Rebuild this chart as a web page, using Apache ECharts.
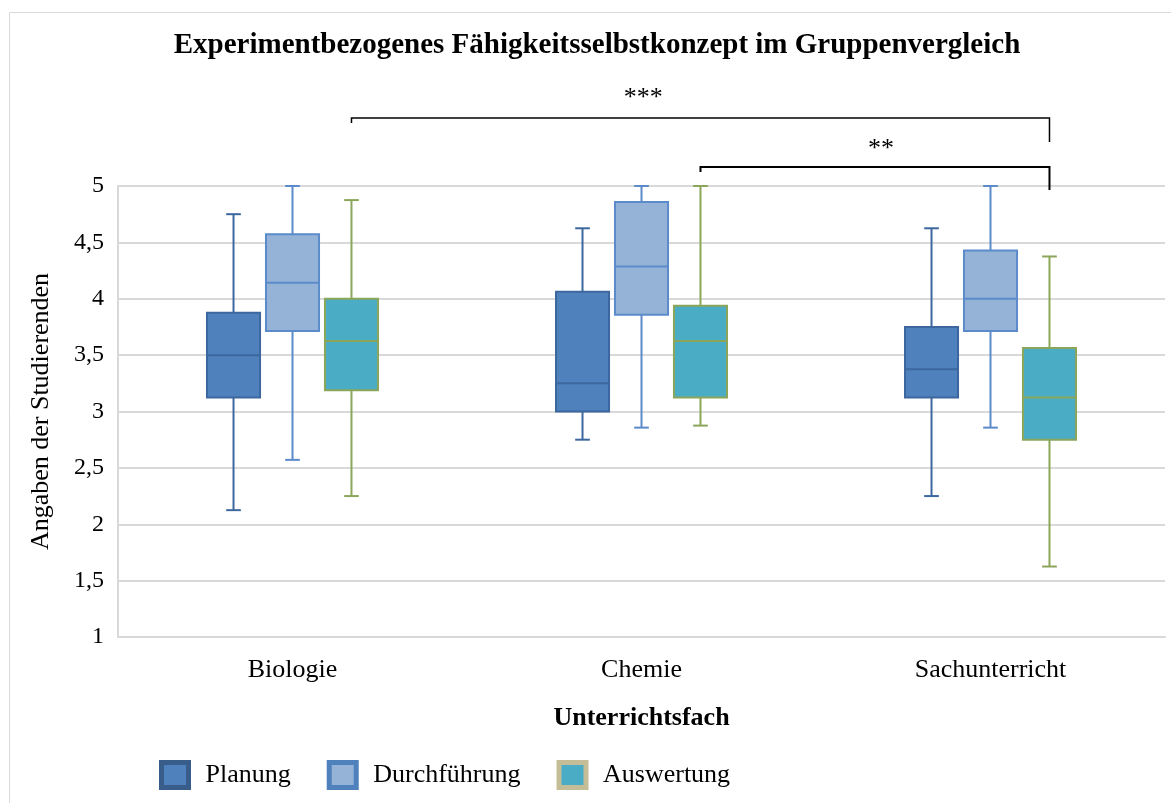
<!DOCTYPE html>
<html>
<head>
<meta charset="utf-8">
<script src="https://cdn.jsdelivr.net/npm/echarts@6/dist/echarts.min.js"></script>
<style>
  html, body { margin: 0; padding: 0; background: #fff; }
  #chart { width: 1171px; height: 803px; }
</style>
</head>
<body>
<div id="chart"></div>
<script>
// categories on the x axis
const subjects = ['Biologie', 'Chemie', 'Sachunterricht']

// one row per subject: [min, Q1, median, Q3, max]
const planung = [
  [2.125, 3.125, 3.5, 3.875, 4.75],
  [2.75, 3.0, 3.25, 4.0625, 4.625],
  [2.25, 3.125, 3.375, 3.75, 4.625],
]
const durchfuehrung = [
  [2.571, 3.714, 4.143, 4.571, 5],
  [2.857, 3.857, 4.286, 4.857, 5],
  [2.857, 3.714, 4.0, 4.429, 5],
]
const auswertung = [
  [2.25, 3.1875, 3.625, 4.0, 4.875],
  [2.875, 3.125, 3.625, 3.9375, 5],
  [1.625, 2.75, 3.125, 3.5625, 4.375],
]

// significance brackets between Auswertung boxes (subject indices)
const sigPairs = [[0, 2], [1, 2]]
const sigLabels = ['***', '**']

const FONT = '"Liberation Serif", "Times New Roman", serif'

const groups = [
  { name: 'Planung', data: planung, offset: -0.169, fill: '#4F81BD', stroke: '#3C679F', legendBorder: '#385D8A' },
  { name: 'Durchführung', data: durchfuehrung, offset: 0, fill: '#95B3D7', stroke: '#5B8BCA', legendBorder: '#4F81BD' },
  { name: 'Auswertung', data: auswertung, offset: 0.169, fill: '#4BACC6', stroke: '#8BA65A', legendBorder: '#C4BD97' },
]

const boxRenderer = (offset, fill, stroke) => (params, api) => {
  const cat = api.value(0)
  const band = api.size([1, 0])[0]
  const cx = api.coord([cat, 1])[0] + offset * band
  const half = band * 0.076
  const cap = band * 0.021
  const y = i => api.coord([cat, api.value(i)])[1]
  const yMin = y(1), yQ1 = y(2), yMed = y(3), yQ3 = y(4), yMax = y(5)
  const line = { stroke, lineWidth: 2 }
  return {
    type: 'group',
    children: [
      { type: 'line', shape: { x1: cx, y1: yMax, x2: cx, y2: yQ3 }, style: line },
      { type: 'line', shape: { x1: cx, y1: yQ1, x2: cx, y2: yMin }, style: line },
      { type: 'line', shape: { x1: cx - cap, y1: yMax, x2: cx + cap, y2: yMax }, style: line },
      { type: 'line', shape: { x1: cx - cap, y1: yMin, x2: cx + cap, y2: yMin }, style: line },
      { type: 'rect', shape: { x: cx - half, y: yQ3, width: 2 * half, height: yQ1 - yQ3 }, style: { fill, stroke, lineWidth: 2 } },
      { type: 'line', shape: { x1: cx - half, y1: yMed, x2: cx + half, y2: yMed }, style: line },
    ],
  }
}

// pixel offsets relative to the top of the plot for each bracket
const bracketLayout = [
  { line: -68, leftEnd: -63, rightEnd: -44, label: -88, labelAt: 0.418, width: 1.5 },
  { line: -19, leftEnd: -14, rightEnd: 4, label: -37, labelAt: 0.517, width: 2 },
]

const bracketRenderer = (params, api) => {
  const i = params.dataIndex
  const lay = bracketLayout[i]
  const band = api.size([1, 0])[0]
  const top = api.coord([0, 5])[1]
  const x1 = api.coord([api.value(0), 5])[0] + groups[2].offset * band
  const x2 = api.coord([api.value(1), 5])[0] + groups[2].offset * band
  const style = { stroke: '#000', lineWidth: lay.width, fill: null }
  return {
    type: 'group',
    children: [
      { type: 'polyline', shape: { points: [[x1, top + lay.leftEnd], [x1, top + lay.line], [x2, top + lay.line], [x2, top + lay.rightEnd]] }, style },
      { type: 'text', style: { text: sigLabels[i], x: x1 + (x2 - x1) * lay.labelAt, y: top + lay.label, align: 'center', verticalAlign: 'middle', font: '26px ' + FONT, fill: '#000' } },
    ],
  }
}

const chart = echarts.init(document.getElementById('chart'))

chart.setOption({
  animation: false,
  backgroundColor: '#fff',
  graphic: [{
    type: 'rect',
    shape: { x: 9.5, y: 12.5, width: 1200, height: 900 },
    style: { fill: null, stroke: '#d9d9d9', lineWidth: 1 },
    silent: true,
  }],
  title: {
    text: 'Experimentbezogenes Fähigkeitsselbstkonzept im Gruppenvergleich',
    left: 592,
    top: 26,
    textAlign: 'center',
    textStyle: { fontFamily: FONT, fontSize: 29, fontWeight: 'bold', color: '#000' },
  },
  legend: {
    left: 154,
    top: 755,
    itemWidth: 27,
    itemHeight: 25,
    itemGap: 36,
    icon: 'rect',
    textStyle: { fontFamily: FONT, fontSize: 26, color: '#000', padding: [6, 0, 0, 12] },
    data: groups.map(g => ({
      name: g.name,
      itemStyle: { color: g.fill, borderColor: g.legendBorder, borderWidth: 5 },
    })),
  },
  grid: { left: 118, right: 6, top: 186, bottom: 166, containLabel: false },
  xAxis: {
    type: 'category',
    data: subjects,
    name: 'Unterrichtsfach',
    nameLocation: 'middle',
    nameGap: 68,
    nameTextStyle: { fontFamily: FONT, fontSize: 26, fontWeight: 'bold', color: '#000' },
    axisLine: { lineStyle: { color: '#d9d9d9', width: 2 } },
    axisTick: { show: false },
    axisLabel: { fontFamily: FONT, fontSize: 26, color: '#000', margin: 20 },
  },
  yAxis: {
    type: 'value',
    min: 1,
    max: 5,
    interval: 0.5,
    name: 'Angaben der Studierenden',
    nameLocation: 'middle',
    nameGap: 64,
    nameTextStyle: { fontFamily: FONT, fontSize: 26, color: '#000' },
    axisLine: { show: true, lineStyle: { color: '#d9d9d9', width: 2 } },
    axisTick: { show: false },
    splitLine: { lineStyle: { color: '#d9d9d9', width: 2 } },
    axisLabel: {
      fontFamily: FONT, fontSize: 24, color: '#000', margin: 14,
      formatter: v => String(v).replace('.', ','),
    },
  },
  series: [
    ...groups.map(g => ({
      type: 'custom',
      name: g.name,
      itemStyle: { color: g.fill, borderColor: g.legendBorder },
      renderItem: boxRenderer(g.offset, g.fill, g.stroke),
      encode: { x: 0, y: [1, 2, 3, 4, 5] },
      data: g.data.map((row, i) => [i, ...row]),
      z: 3,
    })),
    {
      type: 'custom',
      name: 'Signifikanz',
      renderItem: bracketRenderer,
      encode: { x: [0, 1] },
      data: sigPairs,
      clip: false,
      silent: true,
      z: 4,
    },
  ],
})
</script>
</body>
</html>
